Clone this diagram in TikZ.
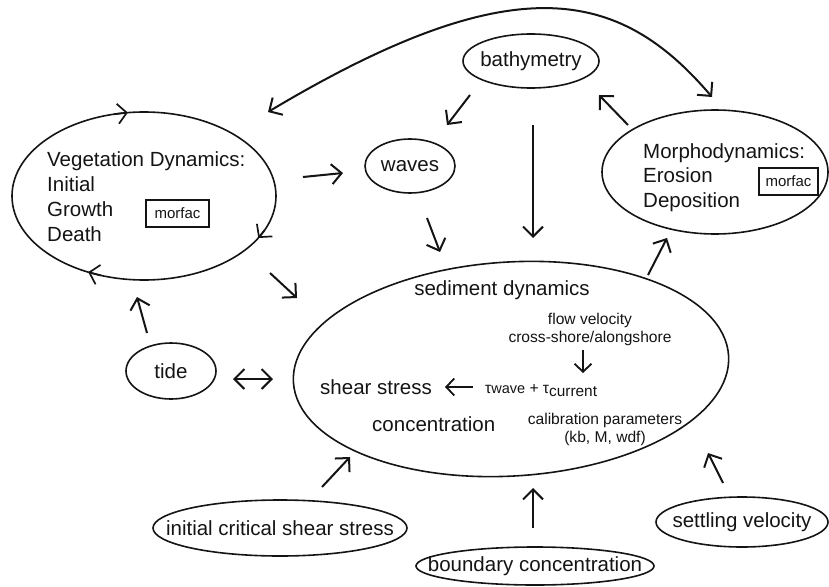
\documentclass[tikz,border=0pt]{standalone}
\usepackage{fontspec}
\setmainfont{Liberation Sans}
\usetikzlibrary{arrows.meta,shapes.geometric}
\definecolor{ink}{RGB}{20,20,20}
\newcommand\bigsz{\fontsize{20.5}{24}\selectfont}
\newcommand\smsz{\fontsize{15.6}{18}\selectfont}
\begin{document}
\begin{tikzpicture}[x=1pt,y=-1pt,
  ell/.style={draw=ink, ellipse, line width=1.6pt, inner sep=0pt, text=ink, font=\bigsz},
  bigtxt/.style={inner sep=0pt, text=ink, font=\bigsz},
  smtxt/.style={inner sep=0pt, text=ink, font=\smsz},
  mbox/.style={draw=ink, rectangle, line width=1.3pt, inner sep=0pt, text=ink, font=\fontsize{15}{18}\selectfont},
  arr/.style={draw=ink, line width=2pt, -{Straight Barb[length=10pt,width=20pt]}},
  darr/.style={draw=ink, line width=2pt, {Straight Barb[length=10pt,width=20pt]}-{Straight Barb[length=10pt,width=20pt]}},
  inarr/.style={draw=ink, line width=1.8pt, -{Straight Barb[length=8pt,width=17pt]}},
  cycarr/.style={draw=ink, line width=1.7pt, -{Straight Barb[length=9pt,width=20pt]}}
]
\useasboundingbox (0,0) rectangle (829,586);

% ---------- ellipses ----------
\node[ell, minimum width=264pt, minimum height=168pt] (veg) at (144,196) {};
\node[ell, minimum width=90pt, minimum height=54pt] (waves) at (410,166) {\makebox[0pt]{waves}};
\node[ell, minimum width=136pt, minimum height=54pt] (bath) at (531,61) {\makebox[0pt]{bathymetry}};
\node[ell, minimum width=226pt, minimum height=124pt] (morph) at (715,172) {};
\node[ell, minimum width=436pt, minimum height=214pt, rotate=3.5] (sed) at (511,369) {};
\node[ell, minimum width=90pt, minimum height=56pt] (tide) at (171,371) {\makebox[0pt]{tide}};
\node[ell, minimum width=254pt, minimum height=56pt] (ics) at (280,528) {\makebox[0pt]{initial critical shear stress}};
\node[ell, minimum width=238pt, minimum height=38pt] (bound) at (535,566) {\makebox[0pt]{boundary concentration}};
\node[ell, minimum width=172pt, minimum height=50pt] (settle) at (742,522) {\makebox[0pt]{settling velocity}};

% ---------- texts in vegetation ----------
\node[bigtxt, anchor=base west] (veg1) at (47,166.5) {Vegetation Dynamics:};
\node[bigtxt, anchor=base west] (veg2) at (47,191) {Initial};
\node[bigtxt, anchor=base west] (veg3) at (47,216) {Growth};
\node[bigtxt, anchor=base west] (veg4) at (47,241) {Death};
\node[mbox, minimum width=63pt, minimum height=27pt] (vegmf) at (177.5,213.5) {morfac};

% ---------- texts in morphodynamics ----------
\node[bigtxt, anchor=base west] (mor1) at (643,158) {Morphodynamics:};
\node[bigtxt, anchor=base west] (mor2) at (643,182.5) {Erosion};
\node[bigtxt, anchor=base west] (mor3) at (643,207) {Deposition};
\node[mbox, minimum width=59pt, minimum height=27pt] (mormf) at (788.5,181.5) {morfac};

% ---------- texts in sediment ----------
\node[bigtxt] (sedT) at (502,290) {sediment dynamics};
\node[smtxt] (flow) at (590,320) {flow velocity};
\node[smtxt] (cross) at (590,338) {cross-shore/alongshore};
\node[bigtxt, anchor=west] (shear) at (320,387) {shear stress};
\node[smtxt, anchor=base west] (tau) at (485,393) {τ\raisebox{-0.5pt}{\fontsize{14.5}{16}\selectfont wave} + τ\raisebox{-3pt}{\fontsize{15.4}{17}\selectfont current}};
\node[bigtxt, anchor=west] (conc) at (372,424) {concentration};
\node[smtxt] (calib) at (605,420) {calibration parameters};
\node[smtxt] (kb) at (605,438) {(kb, M, wdf)};

% ---------- arrow end points ----------
\coordinate (vw1) at (303,177);  \coordinate (vw2) at (343,173);
\coordinate (vs1) at (270,273);  \coordinate (vs2) at (297,298);
\coordinate (tv1) at (147,333);  \coordinate (tv2) at (137,297);
\coordinate (ts1) at (233,379);  \coordinate (ts2) at (273,379);
\coordinate (is1) at (322,487);  \coordinate (is2) at (350,457);
\coordinate (bs1) at (533,528);  \coordinate (bs2) at (533,488);
\coordinate (ss1) at (723,483);  \coordinate (ss2) at (708,453);
\coordinate (sm1) at (648,275);  \coordinate (sm2) at (667,238);
\coordinate (mb1) at (628,125);  \coordinate (mb2) at (599,95);
\coordinate (bw1) at (470,95);   \coordinate (bw2) at (447,125);
\coordinate (bd1) at (533,125);  \coordinate (bd2) at (533,238);
\coordinate (ws1) at (427,218);  \coordinate (ws2) at (440,252);
\coordinate (cv1) at (268,112);  \coordinate (cv2) at (712,97);
\coordinate (fd1) at (583,350);  \coordinate (fd2) at (583,373);
\coordinate (tl1) at (473,387);  \coordinate (tl2) at (445,387);
% cycle marks on vegetation ellipse
\coordinate (c1a) at (114.3,114.2); \coordinate (c1b) at (127.9,112.6);
\coordinate (c2a) at (264.6,230.2); \coordinate (c2b) at (258.3,238);
\coordinate (c3a) at (101,275.4);   \coordinate (c3b) at (88.2,272.1);

% ---------- arrows ----------
\draw[arr] (vw1) -- (vw2);
\draw[arr] (vs1) -- (vs2);
\draw[arr] (tv1) -- (tv2);
\draw[darr] (ts1) -- (ts2);
\draw[arr] (is1) -- (is2);
\draw[arr] (bs1) -- (bs2);
\draw[arr] (ss1) -- (ss2);
\draw[arr] (sm1) -- (sm2);
\draw[arr] (mb1) -- (mb2);
\draw[arr] (bw1) -- (bw2);
\draw[arr] (bd1) -- (bd2);
\draw[arr] (ws1) -- (ws2);
\draw[darr] (cv1) .. controls (514,-35) and (619,-12) .. (cv2);
\draw[inarr] (fd1) -- (fd2);
\draw[inarr] (tl1) -- (tl2);
\draw[cycarr] (c1a) -- (c1b);
\draw[cycarr] (c2a) -- (c2b);
\draw[cycarr] (c3a) -- (c3b);
\end{tikzpicture}
\end{document}
